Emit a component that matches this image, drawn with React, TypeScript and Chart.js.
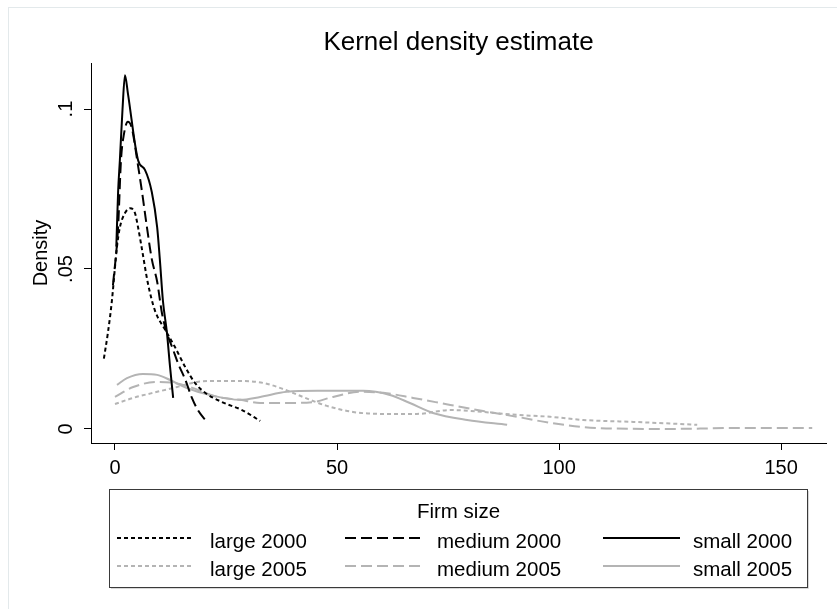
import React, { useEffect, useRef } from "react";
import { Chart, registerables } from "chart.js";

Chart.register(...registerables);

const FONT = "'Liberation Sans', Arial, Helvetica, sans-serif";

const chartTitle = "Kernel density estimate";
const yAxisTitle = "Density";
const legendTitle = "Firm size";

const xTickValues = [0, 50, 100, 150];
const yTickValues = [0, 0.05, 0.1];
const yTickLabels = ["0", ".05", ".1"];

// large 2000 (black dotted)
const large2000X = [-2.5, -1.6, -0.7, 0, 0.45, 1.1, 2.25, 3.4, 4.5, 5.2, 6.1, 7.4, 9.0, 11.3, 13.5, 15.8, 18.0, 20.3, 24.1, 28.6, 32.7];
const large2000Y = [0.022, 0.03, 0.04, 0.0506, 0.057, 0.063, 0.0675, 0.069, 0.0675, 0.063, 0.056, 0.0456, 0.037, 0.031, 0.0256, 0.0194, 0.0144, 0.0113, 0.0084, 0.0059, 0.0025];

// medium 2000 (black dashed)
const medium2000X = [-0.45, 0.7, 1.35, 2.0, 2.9, 3.8, 5.0, 6.1, 7.2, 8.3, 9.5, 10.6, 11.7, 13.1, 14.2, 15.8, 17.3, 18.7, 20.7];
const medium2000Y = [0.045, 0.063, 0.084, 0.092, 0.096, 0.094, 0.084, 0.074, 0.063, 0.053, 0.046, 0.036, 0.03, 0.0247, 0.0205, 0.0155, 0.0098, 0.0058, 0.0022];

// small 2000 (black solid)
const small2000X = [0.3, 0.7, 1.1, 1.7, 2.25, 2.9, 5.2, 6.75, 8.3, 9.5, 10.1, 10.8, 11.7, 12.4, 13.1];
const small2000Y = [0.057, 0.074, 0.084, 0.1, 0.1106, 0.105, 0.084, 0.081, 0.074, 0.063, 0.053, 0.04, 0.03, 0.0194, 0.0097];

// large 2005 (gray dotted)
const large2005X = [0, 4.1, 9.5, 14.0, 18.5, 23.0, 28.2, 33.3, 37.8, 42.3, 47.7, 53.6, 60.4, 68.0, 75.5, 82.9, 90.5, 98.0, 105.4, 116.7, 131.1];
const large2005Y = [0.0078, 0.0097, 0.0116, 0.0131, 0.0147, 0.015, 0.015, 0.0144, 0.0125, 0.01, 0.0072, 0.0053, 0.0047, 0.0047, 0.0059, 0.0053, 0.0044, 0.0038, 0.0028, 0.0022, 0.0013];

// medium 2005 (gray dashed)
const medium2005X = [0, 4.1, 9.5, 13.1, 16.9, 23.0, 28.2, 32.7, 38.7, 44.6, 49.1, 55.2, 60.4, 67.1, 75.5, 82.9, 90.5, 98.0, 105.4, 113.0, 124.3, 131.8, 139.2, 146.8, 157.0];
const medium2005Y = [0.01, 0.0131, 0.0147, 0.0144, 0.0131, 0.01, 0.0091, 0.0081, 0.0081, 0.0084, 0.01, 0.0116, 0.0113, 0.0097, 0.0075, 0.0056, 0.0038, 0.0019, 0.0006, 0.0001, 0.0, 0.0001, 0.0003, 0.0003, 0.0003];

// small 2005 (gray solid)
const small2005X = [0.45, 2.7, 6.3, 9.5, 12.4, 16.2, 21.4, 28.2, 32.7, 38.7, 45.5, 55.9, 61.9, 66.4, 71.6, 79.3, 88.3];
const small2005Y = [0.01375, 0.0159, 0.0172, 0.0169, 0.0153, 0.0128, 0.0106, 0.0091, 0.01, 0.0116, 0.0119, 0.0119, 0.0106, 0.0081, 0.005, 0.0028, 0.0013];

const BLACK = "#000000";
const GRAY = "#b4b4b4";
const DOT = [4, 3];
const DASH = [11, 5];
const SOLID: number[] = [];

const seriesDefs = [
  { label: "large 2000", xs: large2000X, ys: large2000Y, color: BLACK, dash: DOT },
  { label: "medium 2000", xs: medium2000X, ys: medium2000Y, color: BLACK, dash: DASH },
  { label: "small 2000", xs: small2000X, ys: small2000Y, color: BLACK, dash: SOLID },
  { label: "large 2005", xs: large2005X, ys: large2005Y, color: GRAY, dash: DOT },
  { label: "medium 2005", xs: medium2005X, ys: medium2005Y, color: GRAY, dash: DASH },
  { label: "small 2005", xs: small2005X, ys: small2005Y, color: GRAY, dash: SOLID },
];

const legendPlugin = {
  id: "stataLegend",
  afterDraw(chart: any) {
    const ctx = chart.ctx as CanvasRenderingContext2D;
    ctx.save();
    ctx.setLineDash([]);
    ctx.strokeStyle = "#3a3a3a";
    ctx.lineWidth = 1;
    ctx.strokeRect(109.5, 489.5, 698, 98);
    ctx.strokeStyle = "#d8d8d8";
    ctx.beginPath();
    ctx.moveTo(808.5, 491);
    ctx.lineTo(808.5, 588.5);
    ctx.lineTo(111, 588.5);
    ctx.stroke();

    ctx.fillStyle = "#000";
    ctx.font = `20.5px ${FONT}`;
    ctx.textAlign = "center";
    ctx.textBaseline = "alphabetic";
    ctx.fillText(legendTitle, 458.5, 518);

    const sampleX = [117, 345, 603];
    const textX = [210, 437, 693];
    const rowLineY = [538, 566];
    const rowTextY = [548, 576];
    const sampleLen = 77;
    chart.data.datasets.forEach((ds: any, i: number) => {
      const col = i % 3;
      const row = Math.floor(i / 3);
      ctx.strokeStyle = ds.borderColor;
      ctx.lineWidth = 2;
      ctx.setLineDash(ds.borderDash || []);
      ctx.beginPath();
      ctx.moveTo(sampleX[col], rowLineY[row]);
      ctx.lineTo(sampleX[col] + sampleLen, rowLineY[row]);
      ctx.stroke();
      ctx.setLineDash([]);
      ctx.fillStyle = "#000";
      ctx.textAlign = "left";
      ctx.fillText(ds.label, textX[col], rowTextY[row]);
    });
    ctx.restore();
  },
};

export default function App() {
  const canvasRef = useRef<HTMLCanvasElement | null>(null);

  useEffect(() => {
    if (!canvasRef.current) return;
    const datasets = seriesDefs.map((s) => ({
      label: s.label,
      data: s.xs.map((x, i) => ({ x, y: s.ys[i] })),
      borderColor: s.color,
      backgroundColor: s.color,
      borderDash: s.dash,
      borderWidth: 2,
      pointRadius: 0,
      fill: false,
      tension: 0.4,
      cubicInterpolationMode: "monotone" as const,
    }));

    const tickFont = { family: FONT, size: 20, weight: "normal" as const };

    const chart = new Chart(canvasRef.current, {
      type: "line",
      data: { datasets },
      options: {
        animation: false,
        responsive: false,
        maintainAspectRatio: false,
        events: [],
        layout: { padding: { left: 0, top: 0, right: 11, bottom: 0 } },
        plugins: {
          legend: { display: false },
          tooltip: { enabled: false },
          title: {
            display: true,
            text: chartTitle,
            fullSize: false,
            color: "#000",
            font: { family: FONT, size: 26, weight: "normal" },
            padding: { top: 27.3, bottom: 4.5 },
          },
        },
        scales: {
          x: {
            type: "linear",
            position: "bottom",
            min: -5.4,
            max: 160.1,
            afterFit: (s: any) => {
              s.height = 166;
            },
            afterBuildTicks: (s: any) => {
              s.ticks = xTickValues.map((v) => ({ value: v }));
            },
            grid: { display: true, drawOnChartArea: false, drawTicks: true, tickLength: 7, color: "#000", lineWidth: 1 },
            border: { display: true, color: "#000", width: 1 },
            ticks: {
              color: "#000",
              font: tickFont,
              padding: 6,
              autoSkip: false,
              maxRotation: 0,
              minRotation: 0,
              callback: (v: any) => String(v),
            },
          },
          y: {
            type: "linear",
            position: "left",
            min: -0.0044,
            max: 0.1144,
            afterFit: (s: any) => {
              s.width = 91;
            },
            afterBuildTicks: (s: any) => {
              s.ticks = yTickValues.map((v) => ({ value: v }));
            },
            grid: { display: true, drawOnChartArea: false, drawTicks: true, tickLength: 7, color: "#000", lineWidth: 1 },
            border: { display: true, color: "#000", width: 1 },
            title: {
              display: true,
              text: yAxisTitle,
              color: "#000",
              font: { family: FONT, size: 20, weight: "normal" },
              padding: { top: 29.5, bottom: 0 },
            },
            ticks: {
              color: "#000",
              font: tickFont,
              padding: 4,
              autoSkip: false,
              minRotation: 90,
              maxRotation: 90,
              crossAlign: "center",
              callback: (v: any) => {
                const idx = yTickValues.indexOf(Number(v));
                return idx >= 0 ? yTickLabels[idx] : "";
              },
            },
          },
        },
      },
      plugins: [legendPlugin],
    });
    return () => chart.destroy();
  }, []);

  return (
    <div
      style={{
        position: "absolute",
        left: 0,
        top: 0,
        width: 837,
        height: 609,
        overflow: "hidden",
        background: "#fff",
      }}
    >
      <div
        style={{
          position: "absolute",
          left: 8,
          top: 7,
          width: 900,
          height: 700,
          borderTop: "1px solid #e3e9eb",
          borderLeft: "1px solid #e3e9eb",
        }}
      />
      <canvas
        ref={canvasRef}
        width={837}
        height={609}
        style={{ position: "absolute", left: 0, top: 0, width: 837, height: 609 }}
      />
    </div>
  );
}
